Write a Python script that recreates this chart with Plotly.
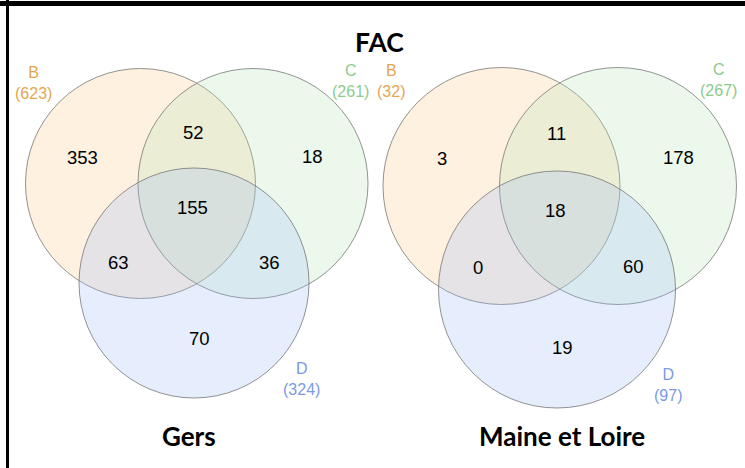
import plotly.graph_objects as go

# ---------------- data ----------------
title = "FAC"
panel_names = ["Gers", "Maine et Loire"]
set_names = ["B", "C", "D"]
gers_totals = [623, 261, 324]
maine_totals = [32, 267, 97]
region_keys = ["B", "C", "D", "BC", "BD", "CD", "BCD"]
gers_counts = [353, 18, 70, 52, 63, 36, 155]
maine_counts = [3, 178, 19, 11, 0, 60, 18]

# ---------------- layout / geometry (pixels) ----------------
W, H = 745, 468
panels = [
    dict(
        counts=gers_counts, totals=gers_totals,
        circles={"B": (140.5, 183.5, 115), "C": (253, 183.5, 115), "D": (194, 283, 115)},
        region_pos={"B": (82, 157), "C": (312, 156), "D": (199, 338), "BC": (193, 132),
                    "BD": (118, 262), "CD": (269, 262), "BCD": (192, 207)},
        label_pos={"B": (33, 83), "C": (350, 81), "D": (301, 379)},
        name_pos=(189, 436),
    ),
    dict(
        counts=maine_counts, totals=maine_totals,
        circles={"B": (501.5, 186, 118.5), "C": (618, 186, 118.5), "D": (557, 289.5, 118.5)},
        region_pos={"B": (442, 158), "C": (678, 157), "D": (562, 347), "BC": (556, 133),
                    "BD": (478, 267), "CD": (633, 266), "BCD": (555, 210)},
        label_pos={"B": (391, 81), "C": (718, 80), "D": (668, 385)},
        name_pos=(562, 436),
    ),
]
fill_colors = {"B": "rgba(251,199,127,0.25)", "C": "rgba(179,227,179,0.25)", "D": "rgba(155,187,247,0.25)"}
label_colors = {"B": "#E6A650", "C": "#8DCB8D", "D": "#7B9AE6"}

fig = go.Figure()
shapes = []
annotations = []

for p in panels:
    for s in set_names:
        cx, cy, r = p["circles"][s]
        shapes.append(dict(type="circle", xref="x", yref="y", x0=cx - r, x1=cx + r, y0=cy - r, y1=cy + r,
                           fillcolor=fill_colors[s], line=dict(color="rgba(120,120,120,0.8)", width=1),
                           layer="below"))
    for key, val in zip(region_keys, p["counts"]):
        x, y = p["region_pos"][key]
        annotations.append(dict(x=x, y=y, xref="x", yref="y", text=str(val), showarrow=False,
                                font=dict(family="Liberation Sans, Arial", size=18.5, color="black")))
    for s, tot in zip(set_names, p["totals"]):
        x, y = p["label_pos"][s]
        annotations.append(dict(x=x, y=y, xref="x", yref="y", text=f"{s}<br>({tot})", showarrow=False,
                                align="center", borderpad=0,
                                font=dict(family="Liberation Sans, Arial", size=16, color=label_colors[s])))

for p, name in zip(panels, panel_names):
    x, y = p["name_pos"]
    annotations.append(dict(x=x, y=y, xref="x", yref="y", text=f"<b>{name}</b>", showarrow=False,
                            font=dict(family="Lato, Open Sans", size=26, color="black")))

annotations.append(dict(x=379, y=42, xref="x", yref="y", text=f"<b>{title}</b>", showarrow=False,
                        font=dict(family="Lato, Open Sans", size=26.5, color="black")))

# frame lines (top and left)
shapes.append(dict(type="line", xref="x", yref="y", x0=0, x1=W, y0=3.5, y1=3.5,
                   line=dict(color="black", width=5)))
shapes.append(dict(type="line", xref="x", yref="y", x0=7.5, x1=7.5, y0=0, y1=H,
                   line=dict(color="black", width=3)))

fig.update_layout(
    width=W, height=H,
    margin=dict(l=0, r=0, t=0, b=0),
    paper_bgcolor="white", plot_bgcolor="white",
    xaxis=dict(range=[0, W], visible=False, fixedrange=True),
    yaxis=dict(range=[H, 0], visible=False, fixedrange=True),
    shapes=shapes, annotations=annotations,
    showlegend=False,
)

fig.write_html("out.html", config={"displayModeBar": False},
               post_script="document.body.style.margin='0';document.body.style.overflow='hidden';")
